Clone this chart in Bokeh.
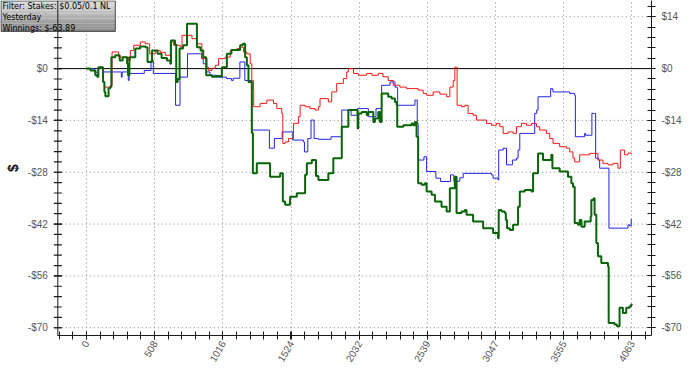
import math
from bokeh.plotting import figure
from bokeh.models import FixedTicker, Span, Label, Range1d
from bokeh.core.properties import value
from bokeh.embed import file_html
from bokeh.resources import INLINE

# ---- data (hands, winnings in $) ----
green_x = [0, 30, 67, 80, 89, 104, 124, 134, 141, 165, 178, 186, 215, 248, 270, 303, 310, 320, 364, 400, 439,
           455, 463, 489, 530, 560, 600, 625, 630, 660, 669, 680, 694, 720, 749, 811, 823, 850, 870, 892, 935,
           970, 997, 1009, 1046, 1080, 1145, 1165, 1182, 1195, 1207, 1232, 1240, 1269, 1331, 1368, 1443, 1463,
           1480, 1517, 1567, 1629, 1642, 1679, 1710, 1728, 1802, 1839, 1902, 1951, 2020, 2025, 2050, 2088, 2100,
           2137, 2149, 2174, 2186, 2199, 2224, 2248, 2273, 2298, 2311, 2315, 2360, 2385, 2422, 2434, 2447, 2459,
           2471, 2497, 2521, 2534, 2571, 2596, 2645, 2683, 2707, 2732, 2744, 2757, 2794, 2819, 2831, 2880, 2955,
           3029, 3066, 3071, 3092, 3116, 3124, 3133, 3153, 3178, 3215, 3228, 3265, 3315, 3327, 3364, 3401, 3451,
           3463, 3471, 3525, 3587, 3612, 3624, 3637, 3661, 3674, 3687, 3711, 3756, 3761, 3778, 3785, 3798, 3810,
           3835, 3885, 3890, 3934, 3951, 3971, 3996, 4021, 4046, 4058, 4063]
green_y = [0.0, -0.5, -1.8, -2.2, 0.4, 0.4, -3.6, -6.3, -7.5, -5.3, -5.0, 3.1, 3.6, 2.2, 3.1, 1.3, -1.8, 3.1, 5.4,
           6.0, 5.8, 1.8, 1.8, 4.9, 4.0, 2.9, 2.2, 1.3, 7.6, 6.5, -3.6, -2.8, 5.4, 6.3, 12.1, 12.1, 5.8, 4.9, 3.1,
           -1.8, -2.2, -2.0, -2.2, 0.4, 4.0, 5.0, 6.3, 6.7, 3.1, 0.9, -3.6, -17.4, -28.3, -25.6, -25.6, -29.2,
           -28.3, -35.9, -36.8, -34.6, -33.7, -28.7, -25.6, -24.7, -29.0, -30.1, -28.3, -24.2, -15.7, -11.2,
           -16.2, -12.1, -11.7, -12.6, -11.7, -14.4, -13.5, -11.7, -14.4, -6.7, -6.7, -7.6, -8.1, -9.0, -9.9,
           -15.7, -15.3, -15.3, -14.8, -15.3, -14.4, -18.4, -31.0, -31.4, -31.0, -33.2, -34.1, -35.9, -37.3,
           -38.6, -32.3, -32.3, -29.2, -39.0, -38.6, -38.2, -39.5, -41.3, -43.1, -44.4, -45.8, -38.2, -38.6,
           -39.0, -40.9, -43.1, -43.6, -42.2, -37.3, -33.2, -32.8, -33.2, -28.3, -22.9, -24.7, -24.7, -23.3,
           -26.9, -27.8, -29.2, -31.0, -31.9, -41.7, -42.2, -40.9, -42.7, -41.3, -40.0, -35.5, -35.0, -39.5,
           -47.1, -50.7, -52.5, -53.4, -68.7, -69.1, -69.6, -64.6, -66.0, -64.6, -64.2, -63.7, -63.89]

red_x = [0, 30, 67, 89, 104, 124, 134, 178, 191, 240, 315, 327, 352, 402, 439, 471, 513, 550, 588, 625, 649, 699,
         712, 786, 823, 860, 898, 910, 935, 960, 984, 1034, 1071, 1121, 1145, 1170, 1195, 1220, 1232, 1244, 1246,
         1294, 1344, 1393, 1418, 1455, 1463, 1480, 1505, 1542, 1579, 1592, 1629, 1666, 1703, 1728, 1740, 1802,
         1827, 1864, 1914, 1939, 1951, 1989, 2025, 2088, 2127, 2174, 2209, 2248, 2285, 2335, 2385, 2424, 2471,
         2508, 2534, 2583, 2633, 2683, 2707, 2732, 2744, 2757, 2761, 2794, 2819, 2843, 2880, 2905, 2943, 2980,
         3017, 3054, 3079, 3104, 3141, 3178, 3203, 3240, 3277, 3315, 3352, 3376, 3426, 3451, 3476, 3525, 3575,
         3600, 3624, 3637, 3674, 3724, 3748, 3773, 3810, 3847, 3885, 3922, 3959, 3977, 4009, 4034, 4058, 4063]
red_y = [0.0, -0.5, -1.8, 0.2, 0.2, -3.6, -5.0, -4.5, 4.5, 3.1, 2.2, 4.9, 6.3, 7.2, 6.7, 4.0, 4.9, 4.4, 3.6, 7.2,
         6.3, 5.8, 9.0, 8.1, 6.7, 2.7, 0.4, -0.5, 0.1, 0.9, 2.7, 3.1, 4.9, 5.4, 5.8, 4.5, 4.0, 1.3, -3.2, -5.8,
         -10.3, -9.4, -8.5, -9.4, -10.8, -12.1, -20.2, -19.8, -18.9, -14.8, -13.0, -9.9, -10.3, -10.8, -11.2,
         -10.3, -8.1, -9.0, -6.3, -4.0, -2.7, -0.9, 0.0, -1.3, -1.8, -1.3, -1.8, -1.3, -2.2, -3.2, -4.5, -5.0,
         -5.4, -5.4, -5.8, -6.7, -7.2, -6.3, -6.9, -7.6, -5.0, -3.2, 0.4, 0.4, -9.9, -10.3, -9.9, -12.1, -12.6,
         -13.9, -13.9, -14.8, -15.3, -14.8, -15.7, -17.5, -17.1, -17.5, -15.7, -14.8, -15.3, -14.8, -15.7,
         -16.6, -17.5, -18.9, -20.2, -21.1, -21.5, -22.5, -24.2, -25.2, -23.3, -23.3, -22.9, -22.9, -24.7,
         -25.6, -26.0, -25.6, -26.9, -22.0, -23.3, -22.8, -22.9, -22.9]

blue_x = [0, 60, 89, 104, 126, 258, 260, 266, 312, 318, 424, 431, 476, 481, 491, 498, 660, 664, 689, 697, 746,
          753, 846, 857, 870, 892, 895, 920, 969, 969, 1043, 1043, 1081, 1093, 1143, 1175, 1180, 1227, 1232, 1356,
          1363, 1398, 1400, 1455, 1458, 1530, 1537, 1616, 1624, 1646, 1649, 1671, 1673, 1693, 1696, 1728, 1815,
          1822, 1889, 1902, 1963, 1971, 2013, 2018, 2088, 2100, 2149, 2157, 2186, 2199, 2248, 2261, 2285, 2298,
          2315, 2318, 2447, 2447, 2459, 2464, 2471, 2508, 2514, 2531, 2534, 2596, 2603, 2635, 2638, 2707, 2712,
          2732, 2737, 2767, 2781, 2806, 3017, 3029, 3066, 3071, 3104, 3126, 3129, 3166, 3173, 3203, 3215, 3228,
          3327, 3339, 3354, 3364, 3451, 3458, 3473, 3476, 3600, 3637, 3642, 3699, 3711, 3718, 3761, 3765, 3785,
          3793, 3815, 3823, 3885, 3892, 4021, 4034, 4046, 4058, 4063]
blue_y = [0.0, -1.0, 0.2, 0.2, -0.9, -0.9, -2.3, -0.9, -3.2, -1.3, -1.3, -0.5, -0.5, 2.2, 2.2, -1.3, -1.3, -9.9,
          -9.9, -2.3, -2.3, 4.0, 4.0, 2.7, 1.3, 1.3, -0.9, -1.8, -1.8, -2.3, -2.3, -2.7, -3.2, -2.6, 1.8, 1.8,
          -3.2, -3.2, -16.6, -16.6, -21.5, -21.5, -18.9, -18.9, -17.1, -17.1, -19.3, -19.8, -22.5, -22.5, -18.9,
          -18.9, -13.9, -13.9, -18.9, -19.1, -19.1, -18.4, -18.4, -11.2, -11.2, -12.6, -12.6, -10.8, -10.8,
          -13.0, -13.0, -10.8, -10.8, -4.5, -4.5, -3.6, -3.6, -5.0, -5.3, -9.9, -9.9, -8.5, -8.5, -14.8, -24.7,
          -24.7, -23.8, -23.8, -27.8, -27.8, -29.6, -29.6, -30.5, -30.5, -28.7, -28.7, -30.5, -30.4, -29.5,
          -28.3, -28.7, -29.6, -30.1, -22.0, -21.5, -21.5, -26.0, -26.0, -24.7, -24.2, -22.0, -17.5, -17.5,
          -12.1, -11.2, -7.6, -7.6, -5.4, -5.8, -6.3, -6.7, -7.2, -18.4, -18.4, -17.5, -18.0, -18.0, -12.1,
          -12.1, -24.2, -24.7, -26.9, -26.9, -43.1, -43.1, -42.2, -42.5, -40.7, -40.7]

x_ticks = [0, 508, 1016, 1524, 2032, 2539, 3047, 3555, 4063]
y_ticks = [-70, -56, -42, -28, -14, 0, 14]
y_tick_labels = ["-$70", "-$56", "-$42", "-$28", "-$14", "$0", "$14"]
info_lines = ["Filter: Stakes: $0.05/0.1 NL", "Yesterday", "Winnings: $-63.89"]

# ---- layout helpers ----
W, H = 684, 367
FRAME_W, FRAME_H = 652, 336
X_START, X_AXIS_START, X_END = -640, -213, 4209
Y_START, Y_END = -72.1, 18.4
HANDS_PER_PX = (X_END - X_START) / FRAME_W
DOLLARS_PER_PX = (Y_END - Y_START) / FRAME_H
TICK_HALF = 4 * HANDS_PER_PX
x_step = x_ticks[-1] / 40.0
x_minor = [x_ticks[0] + i * x_step for i in range(-2, 42)]
y_minor = [-72.8 + i * 2.8 for i in range(34)]
y_minor = [v for v in y_minor if Y_START <= v <= Y_END]

AX = "#1a1a1a"
LBL = "#555555"
FONT = "Liberation Sans"

p = figure(width=W, height=H, output_backend="svg", toolbar_location=None,
           x_range=Range1d(X_START, X_END), y_range=Range1d(Y_START, Y_END),
           y_axis_location="right",
           min_border_left=0, min_border_right=W - FRAME_W, min_border_top=0,
           min_border_bottom=H - FRAME_H,
           background_fill_color="white", border_fill_color="white", outline_line_color=None)

xa = p.xaxis[0]
ya = p.yaxis[0]
xa.ticker = FixedTicker(ticks=x_ticks, minor_ticks=x_minor)
xa.bounds = (X_AXIS_START, X_END)
ya.ticker = FixedTicker(ticks=y_ticks, minor_ticks=y_minor)
ya.major_label_overrides = {t: l for t, l in zip(y_ticks, y_tick_labels)}

for ax in [xa, ya]:
    ax.axis_line_color = AX
    ax.major_tick_line_color = AX
    ax.minor_tick_line_color = AX
    ax.major_tick_in = 4
    ax.major_tick_out = 4
    ax.minor_tick_in = 4
    ax.minor_tick_out = 4
    ax.major_label_text_font = FONT
    ax.major_label_text_font_size = "10px"
    ax.major_label_text_color = LBL

xa.major_label_orientation = math.pi / 3
xa.major_label_standoff = 2
ya.major_label_standoff = 6

# grids
p.xgrid.grid_line_color = "#888888"
p.xgrid.grid_line_dash = "1 3"
p.ygrid.visible = False
grid_y = [t for t in y_ticks if t != 0]
p.segment(x0=[X_AXIS_START] * len(grid_y), x1=[X_END] * len(grid_y), y0=grid_y, y1=grid_y,
          line_color="#888888", line_dash="1 3", line_width=1)

# left axis (drawn as guide marks so the info box may sit over it)
p.add_layout(Span(location=X_AXIS_START, dimension="height", line_color=AX, line_width=1))
ltick_y = y_ticks + y_minor
p.segment(x0=[X_AXIS_START - TICK_HALF] * len(ltick_y), x1=[X_AXIS_START + TICK_HALF] * len(ltick_y),
          y0=ltick_y, y1=ltick_y, line_color=AX, line_width=1.2)
p.text(x=[X_AXIS_START] * len(y_ticks), y=y_ticks, text=y_tick_labels, x_offset=-10,
       text_align="right", text_baseline="middle", text_font=value(FONT), text_font_size="10px",
       text_color=LBL)
p.text(x=[X_AXIS_START], y=[(Y_START + Y_END) / 2], text=["$"], x_offset=-45, angle=math.pi / 2,
       text_align="center", text_baseline="middle", text_font=value(FONT), text_font_size="14px",
       text_font_style="bold", text_color="#111111")

# zero line
p.segment(x0=[X_AXIS_START], x1=[X_END], y0=[0], y1=[0], line_color="black", line_width=1)

# series
p.step(blue_x, blue_y, mode="after", line_color="#2424e0", line_width=1)
p.step(red_x, red_y, mode="after", line_color="#f01818", line_width=1)
p.step(green_x, green_y, mode="after", line_color="#0a640a", line_width=2)

# info box with a vertical grey gradient
BOX_W_PX, BOX_H_PX, BANDS = 115, 31, 12
c_top, c_bot = (222, 222, 222), (138, 138, 138)
band_h = BOX_H_PX * DOLLARS_PER_PX / BANDS
box_right = X_START + BOX_W_PX * HANDS_PER_PX
band_colors = []
for i in range(BANDS):
    t = i / (BANDS - 1)
    band_colors.append("#%02x%02x%02x" % tuple(int(round(a + (b - a) * t)) for a, b in zip(c_top, c_bot)))
p.quad(left=[X_START] * BANDS, right=[box_right] * BANDS,
       top=[Y_END - i * band_h for i in range(BANDS)],
       bottom=[Y_END - (i + 1) * band_h for i in range(BANDS)],
       fill_color=band_colors, line_color=None)
p.quad(left=[X_START + 0.5 * HANDS_PER_PX], right=[box_right], top=[Y_END - 0.5 * DOLLARS_PER_PX],
       bottom=[Y_END - BOX_H_PX * DOLLARS_PER_PX], fill_color=None, line_color="#4a4a4a", line_width=1)

info = Label(x=X_START, y=Y_END, x_offset=2, y_offset=-1, text="\n".join(info_lines),
             text_font="DejaVu Sans", text_font_size="8px", text_color="black",
             text_align="left", text_baseline="top", text_line_height=1.25, level="overlay")
p.add_layout(info)

open("out.html", "w").write(file_html(p, INLINE))
